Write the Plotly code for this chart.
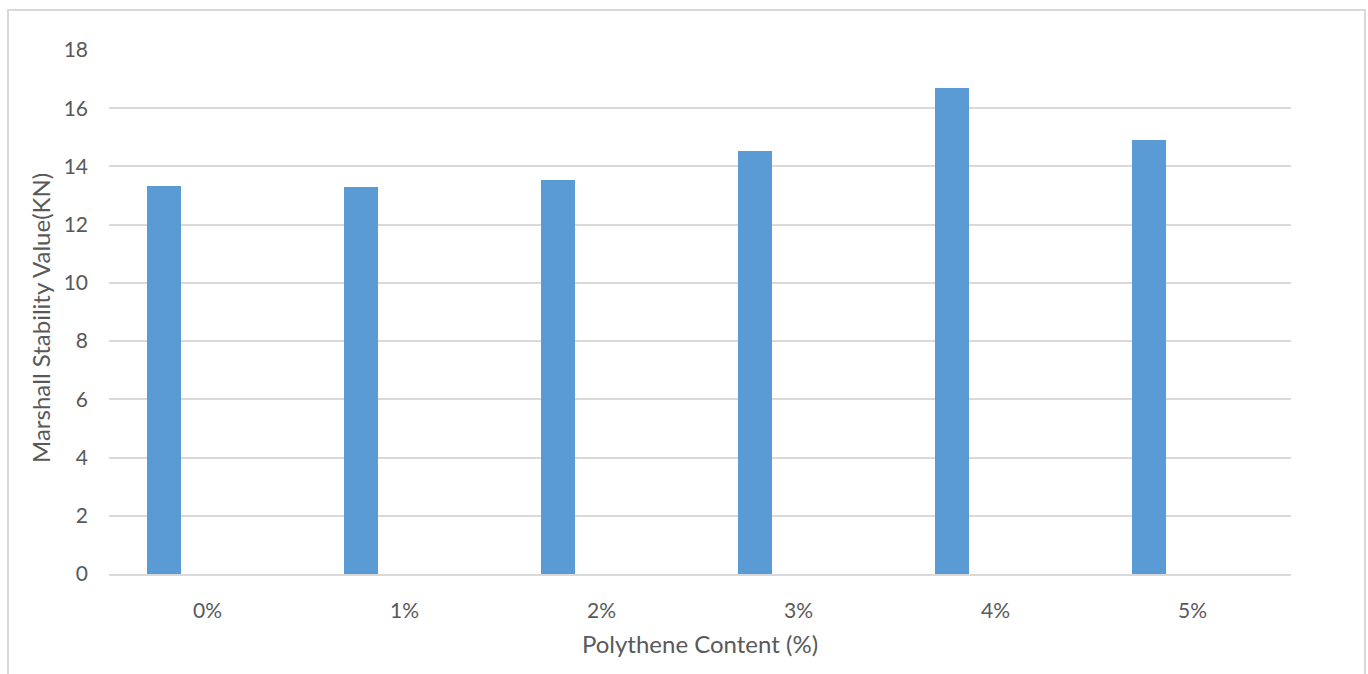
import plotly.graph_objects as go

# Marshall stability by polythene content
categories = ["0%", "1%", "2%", "3%", "4%", "5%"]
stability_kn = [13.33, 13.28, 13.54, 14.54, 16.70, 14.91]
y_ticks = [0, 2, 4, 6, 8, 10, 12, 14, 16, 18]

W, H = 1368, 674
ML, MR, MT, MB = 109, 77, 50, 100
plot_w = W - ML - MR
plot_h = H - MT - MB

font_family = "Lato, Carlito, Calibri, sans-serif"
text_color = "#595959"
grid_color = "#d9d9d9"

fig = go.Figure()
fig.add_trace(go.Bar(
    x=categories,
    y=stability_kn,
    marker=dict(color="#5b9bd5", line=dict(width=0)),
    width=0.173,
    offset=-0.307,
    showlegend=False,
    hoverinfo="x+y",
))

# Pixel -> paper coordinate helpers for items placed outside the plot area
def px_x(px):
    return (px - ML) / plot_w

def px_y(py):
    return (H - MB - py) / plot_h

# Outer chart frame
fig.add_shape(
    type="rect", xref="paper", yref="paper",
    x0=px_x(8), x1=px_x(1365), y0=px_y(690), y1=px_y(10),
    line=dict(color=grid_color, width=2), fillcolor="rgba(0,0,0,0)",
    layer="below",
)

# Vertical axis title
fig.add_annotation(
    text="Marshall Stability Value(KN)",
    xref="paper", yref="paper",
    x=px_x(40), y=px_y(318),
    xanchor="center", yanchor="middle",
    textangle=-90, showarrow=False,
    font=dict(size=24, color=text_color, family=font_family),
)

fig.update_layout(
    width=W, height=H,
    margin=dict(l=ML, r=MR, t=MT, b=MB, pad=0),
    paper_bgcolor="white",
    plot_bgcolor="white",
    font=dict(family=font_family, color=text_color, size=21),
    bargap=0,
    xaxis=dict(
        type="category",
        range=[-0.5, 5.5],
        showgrid=False,
        showline=True,
        linecolor=grid_color,
        linewidth=2,
        ticks="",
        ticklabelstandoff=17,
        tickfont=dict(size=21, color=text_color),
        title=dict(text="Polythene Content (%)", font=dict(size=24, color=text_color), standoff=15),
        zeroline=False,
    ),
    yaxis=dict(
        range=[0, 18],
        tickvals=y_ticks,
        showgrid=True,
        gridcolor=grid_color,
        gridwidth=1.5,
        showline=False,
        zeroline=False,
        ticks="",
        ticklabelstandoff=20,
        tickfont=dict(size=21, color=text_color),
    ),
)

fig.write_html("out.html")
